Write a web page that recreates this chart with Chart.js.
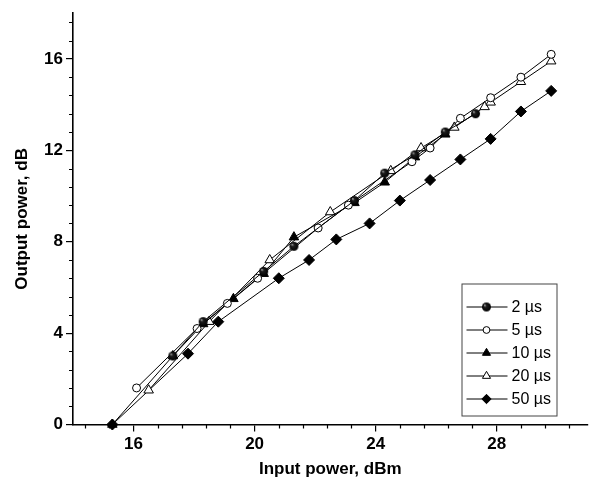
<!DOCTYPE html>
<html>
<head>
<meta charset="utf-8">
<script src="https://cdn.jsdelivr.net/npm/chart.js@4.4.0/dist/chart.umd.min.js"></script>
<style>
    html, body { margin: 0; padding: 0; background: #fff; }
    #wrap { width: 594px; height: 489px; }
</style>
</head>
<body>
<div id="wrap"><canvas id="chart" width="594" height="489"></canvas></div>
<script>
// values
const seriesLabels = ['2 µs', '5 µs', '10 µs', '20 µs', '50 µs'];

const x2us = [17.3, 18.3, 20.3, 21.3, 23.3, 24.3, 25.3, 26.3, 27.3];
const y2us = [3.0, 4.5, 6.7, 7.8, 9.8, 11.0, 11.8, 12.8, 13.6];

const x5us = [16.1, 18.1, 19.1, 20.1, 22.1, 23.1, 25.2, 25.8, 26.8, 27.8, 28.8, 29.8];
const y5us = [1.6, 4.2, 5.3, 6.4, 8.6, 9.6, 11.5, 12.1, 13.4, 14.3, 15.2, 16.2];

const x10us = [15.3, 17.3, 18.3, 19.3, 20.3, 21.3, 23.3, 24.3, 25.3, 26.3];
const y10us = [0.0, 3.0, 4.4, 5.5, 6.6, 8.2, 9.7, 10.6, 11.7, 12.7];

const x20us = [16.5, 18.5, 20.5, 22.5, 24.5, 25.5, 26.6, 27.6, 27.8, 28.8, 29.8];
const y20us = [1.5, 4.5, 7.2, 9.3, 11.1, 12.1, 13.0, 13.9, 14.1, 15.0, 15.9];

const x50us = [15.3, 17.8, 18.8, 20.8, 21.8, 22.7, 23.8, 24.8, 25.8, 26.8, 27.8, 28.8, 29.8];
const y50us = [0.0, 3.1, 4.5, 6.4, 7.2, 8.1, 8.8, 9.8, 10.7, 11.6, 12.5, 13.7, 14.6];

const xMajorTicks = [16, 20, 24, 28];
const yMajorTicks = [0, 4, 8, 12, 16];
const minorStep = 0.8;

const FONT = "'Liberation Sans', Arial, sans-serif";

function pairs(xs, ys) {
    return xs.map((v, i) => ({ x: v, y: ys[i] }));
}

// little shaded ball used by the 2 us series
function makeBall(r) {
    const c = document.createElement('canvas');
    const s = 2 * r + 2;
    c.width = s;
    c.height = s;
    const g = c.getContext('2d');
    const grad = g.createRadialGradient(s / 2 - r * 0.4, s / 2 - r * 0.4, 0.2, s / 2, s / 2, r);
    grad.addColorStop(0, '#a8a8a8');
    grad.addColorStop(0.3, '#1c1c1c');
    grad.addColorStop(1, '#000');
    g.fillStyle = grad;
    g.beginPath();
    g.arc(s / 2, s / 2, r, 0, Math.PI * 2);
    g.fill();
    return c;
}
const ball = makeBall(4.5);

function series(label, xs, ys, style, radius, fill) {
    return {
        label: label,
        data: pairs(xs, ys),
        borderColor: '#000',
        borderWidth: 1,
        pointStyle: style,
        pointRadius: radius,
        pointHoverRadius: radius,
        pointBackgroundColor: fill,
        pointBorderColor: '#000',
        pointBorderWidth: 1,
        tension: 0,
        clip: false
    };
}

const datasets = [
    series(seriesLabels[0], x2us, y2us, ball, 4.5, '#000'),
    series(seriesLabels[1], x5us, y5us, 'circle', 4, '#fff'),
    series(seriesLabels[2], x10us, y10us, 'triangle', 5.5, '#000'),
    series(seriesLabels[3], x20us, y20us, 'triangle', 5.5, '#fff'),
    series(seriesLabels[4], x50us, y50us, 'rectRot', 5.5, '#000')
];

// short outer ticks between the labelled ones
const minorTicks = {
    id: 'minorTicks',
    afterDraw(chart) {
        const ctx = chart.ctx;
        const xs = chart.scales.x, ys = chart.scales.y;
        const area = chart.chartArea;
        ctx.save();
        ctx.strokeStyle = '#000';
        ctx.lineWidth = 1.2;
        ctx.beginPath();
        for (let k = Math.ceil(xs.min / minorStep); k * minorStep <= xs.max + 1e-9; k++) {
            if (k % 5 === 0) continue;
            const px = Math.round(xs.getPixelForValue(k * minorStep)) + 0.5;
            ctx.moveTo(px, area.bottom);
            ctx.lineTo(px, area.bottom + 4);
        }
        for (let k = Math.ceil(ys.min / minorStep); k * minorStep <= ys.max + 1e-9; k++) {
            if (k % 5 === 0) continue;
            const py = Math.round(ys.getPixelForValue(k * minorStep)) + 0.5;
            ctx.moveTo(area.left, py);
            ctx.lineTo(area.left - 4, py);
        }
        ctx.stroke();
        ctx.restore();
    }
};

// framed legend inside the plot, lower right
const boxLegend = {
    id: 'boxLegend',
    afterDraw(chart) {
        const ctx = chart.ctx;
        const area = chart.chartArea;
        const left = area.right - 126, top = area.bottom - 141;
        const w = 95, h = 132, rowH = 23;
        ctx.save();
        ctx.strokeStyle = '#444';
        ctx.lineWidth = 1;
        ctx.strokeRect(left + 0.5, top + 0.5, w, h);
        ctx.font = '16px ' + FONT;
        ctx.textBaseline = 'middle';
        ctx.fillStyle = '#000';
        chart.data.datasets.forEach((ds, i) => {
            const y = top + 23.5 + i * rowH;
            ctx.strokeStyle = '#000';
            ctx.lineWidth = 1;
            ctx.beginPath();
            ctx.moveTo(left + 5, y);
            ctx.lineTo(left + 46, y);
            ctx.stroke();
            ctx.fillStyle = ds.pointBackgroundColor;
            ctx.strokeStyle = '#000';
            Chart.helpers.drawPoint(ctx, {
                pointStyle: ds.pointStyle,
                rotation: 0,
                radius: ds.pointRadius * 0.85,
                borderWidth: 1
            }, left + 25, y);
            ctx.fillStyle = '#000';
            ctx.fillText(ds.label, left + 50, y + 1);
        });
        ctx.restore();
    }
};

const axisFont = { family: FONT, size: 17, weight: 'bold' };

new Chart(document.getElementById('chart'), {
    type: 'line',
    data: { datasets: datasets },
    options: {
        responsive: false,
        animation: false,
        layout: { padding: { top: 13, right: 1, bottom: 0, left: 0 } },
        plugins: {
            legend: { display: false },
            tooltip: { enabled: false }
        },
        scales: {
            x: {
                type: 'linear',
                min: 14,
                max: 31,
                afterBuildTicks: s => { s.ticks = xMajorTicks.map(v => ({ value: v })); },
                afterFit: s => { s.height = 64.5; },
                ticks: { color: '#000', font: axisFont, padding: 3, autoSkip: false, maxRotation: 0 },
                grid: { drawOnChartArea: false, drawTicks: true, tickLength: 7, color: '#000', lineWidth: 1.2 },
                border: { display: true, color: '#000', width: 1.6 },
                title: { display: true, text: 'Input power, dBm', color: '#000', font: axisFont, padding: { top: 4, bottom: 9 } }
            },
            y: {
                type: 'linear',
                min: 0,
                max: 18,
                afterBuildTicks: s => { s.ticks = yMajorTicks.map(v => ({ value: v })); },
                afterFit: s => { s.width = 73; },
                ticks: { color: '#000', font: axisFont, padding: 3, autoSkip: false },
                grid: { drawOnChartArea: false, drawTicks: true, tickLength: 7, color: '#000', lineWidth: 1.2 },
                border: { display: true, color: '#000', width: 1.6 },
                title: { display: true, text: 'Output power, dB', color: '#000', font: axisFont, padding: { top: 12, bottom: 4 } }
            }
        }
    },
    plugins: [minorTicks, boxLegend]
});
</script>
</body>
</html>
